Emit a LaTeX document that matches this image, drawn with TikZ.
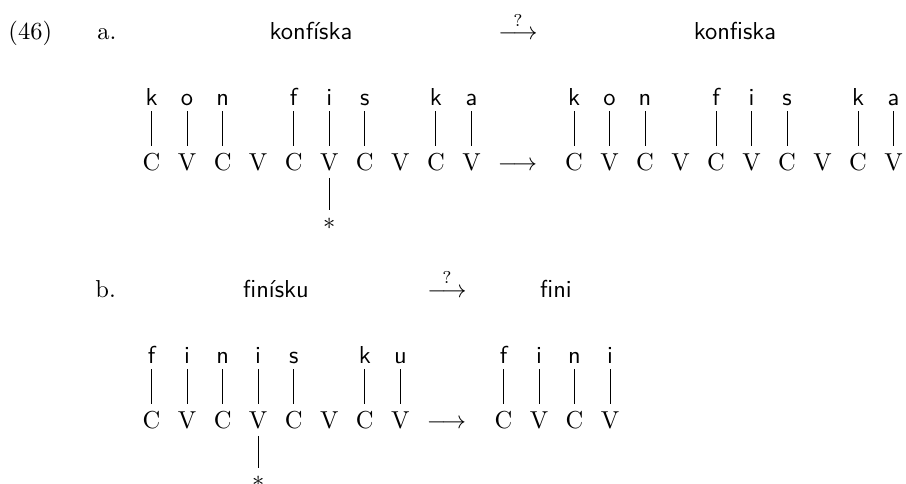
\documentclass[tikz,border=0pt]{standalone}
\begin{document}
\begin{tikzpicture}[x=0.408pt,y=-0.408pt,
  seg/.style={font=\sffamily,inner sep=0pt,text depth=0pt,anchor=base},
  slot/.style={inner sep=0pt,text height=6.83pt,text depth=0pt,anchor=base},
  plain/.style={inner sep=0pt,anchor=base},
  assoc/.style={shorten <=2.16pt,shorten >=2.86pt},
  delink/.style={shorten <=2.98pt,shorten >=2.7pt}]
\useasboundingbox (0,0) rectangle (906,483);

\node[plain,anchor=base west] (ex) at (8,40) {(46)};
\node[plain,anchor=base west] (la) at (97,40) {a.};
\node[seg] (wa) at (311,40) {konfíska};
\node[plain] (qa) at (518,40) {$\stackrel{?}{\longrightarrow}$};
\node[seg] (wa') at (735,40) {konfiska};

\foreach \s [count=\i] in {C,V,C,V,C,V,C,V,C,V} {
  \node[slot] (a\i) at ({151.5+35.55*(\i-1)},170) {\s};
  \node[slot] (a'\i) at ({574+35.5*(\i-1)},170) {\s};
}
\foreach \i/\t in {1/k,2/o,3/n,5/f,6/i,7/s,9/k,10/a} {
  \node[seg] (ta\i) at ({151.5+35.55*(\i-1)},105.5) {\t};
  \draw[assoc] (ta\i.south) -- (a\i.north);
  \node[seg] (ta'\i) at ({574+35.5*(\i-1)},105.5) {\t};
  \draw[assoc] (ta'\i.south) -- (a'\i.north);
}
\node[plain] (ra) at (517.5,170) {$\longrightarrow$};
\node[inner sep=0pt] (sa) at (a6 |- 0,223.3) {$*$};
\draw[delink] (a6.south) -- (sa.north);

\node[plain,anchor=base west] (lb) at (95,297) {b.};
\node[seg] (wb) at (276,297) {finísku};
\node[plain] (qb) at (447,297) {$\stackrel{?}{\longrightarrow}$};
\node[seg] (wb') at (556,297) {fini};

\foreach \s [count=\i] in {C,V,C,V,C,V,C,V}
  \node[slot] (b\i) at ({151.5+35.55*(\i-1)},428) {\s};
\foreach \s [count=\i] in {C,V,C,V}
  \node[slot] (b'\i) at ({503.5+35.5*(\i-1)},428) {\s};
\foreach \i/\t in {1/f,2/i,3/n,4/i,5/s,7/k,8/u} {
  \node[seg] (tb\i) at ({151.5+35.55*(\i-1)},363.5) {\t};
  \draw[assoc] (tb\i.south) -- (b\i.north);
}
\foreach \i/\t in {1/f,2/i,3/n,4/i} {
  \node[seg] (tb'\i) at ({503.5+35.5*(\i-1)},363.5) {\t};
  \draw[assoc] (tb'\i.south) -- (b'\i.north);
}
\node[plain] (rb) at (446.5,428) {$\longrightarrow$};
\node[inner sep=0pt] (sb) at (b4 |- 0,481.3) {$*$};
\draw[delink] (b4.south) -- (sb.north);
\end{tikzpicture}
\end{document}
